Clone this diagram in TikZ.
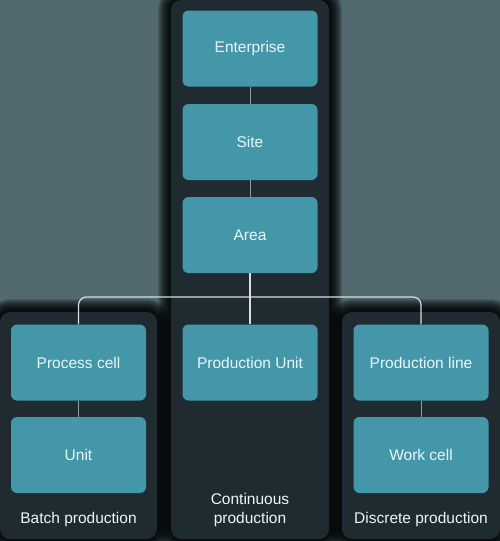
\documentclass[tikz,border=0pt]{standalone}
\usepackage{fontspec}
\setmainfont{Liberation Sans}
\usepackage{xcolor}
\usetikzlibrary{positioning}

\definecolor{backdrop}{RGB}{82,105,112}
\definecolor{panelbg}{RGB}{31,43,48}
\definecolor{boxteal}{RGB}{68,151,169}
\definecolor{boxtext}{RGB}{235,246,249}
\definecolor{buscol}{RGB}{214,222,224}
\definecolor{linkcol}{RGB}{140,158,162}

\begin{document}
\begin{tikzpicture}[x=1pt, y=-1pt,
    level/.style={fill=boxteal, rounded corners=6pt, minimum width=135pt,
        minimum height=76pt, inner sep=0pt, text=boxtext,
        font=\fontsize{15.5}{18}\selectfont},
    caption/.style={text=boxtext, align=center,
        font=\fontsize{15.5}{19}\selectfont},
    link/.style={draw=linkcol, line width=0.9pt},
    bus/.style={draw=buscol, line width=1.2pt, rounded corners=8pt}]
    \useasboundingbox (0,0) rectangle (500,541);
    \fill[backdrop] (0,0) rectangle (500,541);

    % Shadows round the panels
    \foreach \w in {2,4,...,26} {
        \draw[black, line width=\w pt, opacity=0.14, rounded corners=10pt]
            (171,0) rectangle (329,539);
        \draw[black, line width=\w pt, opacity=0.14, rounded corners=10pt]
            (0,312) rectangle (157,539);
        \draw[black, line width=\w pt, opacity=0.14, rounded corners=10pt]
            (342,312) rectangle (500,539);
    }

    % Panels
    \fill[panelbg, rounded corners=10pt] (171,0) rectangle (329,539);
    \fill[panelbg, rounded corners=10pt] (0,312) rectangle (157,539);
    \fill[panelbg, rounded corners=10pt] (342,312) rectangle (500,539);

    % Continuous production
    \node[level] (enterprise) at (250,48.5) {Enterprise};
    \node[level] (site) at (250,142) {Site};
    \node[level] (area) at (250,235) {Area};
    \node[level] (produnit) at (250,362.5) {Production Unit};

    % Batch production
    \node[level] (proccell) at (78.5,362.5) {Process cell};
    \node[level] (unit) at (78.5,455) {Unit};

    % Discrete production
    \node[level] (prodline) at (421,362.5) {Production line};
    \node[level] (workcell) at (421,455) {Work cell};

    % Captions
    \node[caption] (batch) at (78.5,519) {Batch production};
    \node[caption] (continuous) at (250,509.5) {Continuous\\production};
    \node[caption] (discrete) at (421,519) {Discrete production};

    % Links
    \coordinate (junction) at (250,297);
    \draw[link] (enterprise) -- (site);
    \draw[link] (site) -- (area);
    \draw[link] (proccell) -- (unit);
    \draw[link] (prodline) -- (workcell);
    \draw[bus] (area) -- (produnit);
    \draw[bus] (proccell.north) |- (junction) -| (prodline.north);
\end{tikzpicture}
\end{document}
